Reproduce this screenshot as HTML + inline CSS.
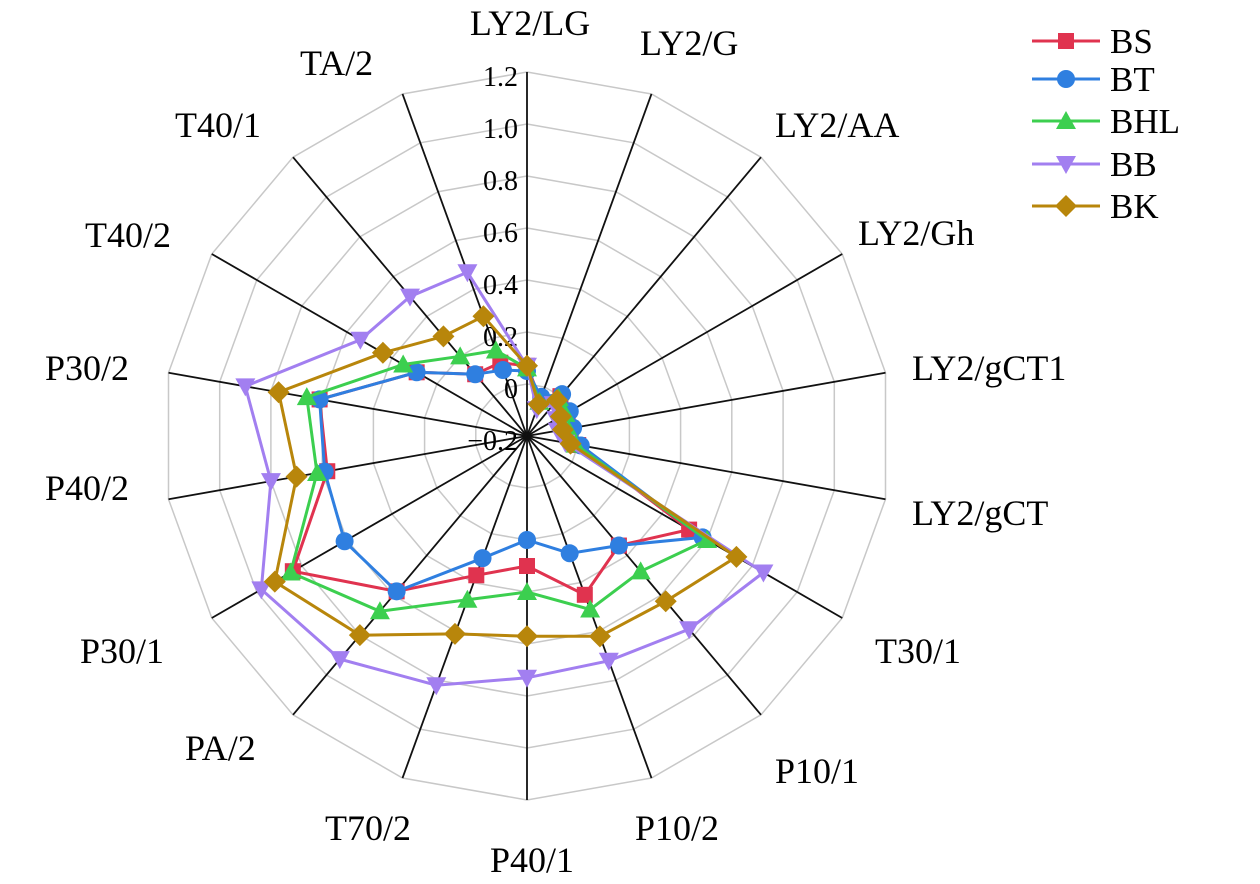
<!DOCTYPE html><html><head><meta charset="utf-8"><style>body{margin:0;background:#fff}svg{display:block}text{font-family:"Liberation Serif",serif;fill:#000}</style></head><body>
<svg id="s" width="1260" height="884" viewBox="0 0 1260 884"></svg>
<script>
const s=document.getElementById('s');const cx=527,cy=436,R=364;let h='';
const ang=i=>i*20*Math.PI/180;
const pt=(i,v)=>{const r=(v+0.2)/1.4*R;return [cx+r*Math.sin(ang(i)),cy-r*Math.cos(ang(i))];};
for(let k=1;k<=7;k++){let p=[];for(let i=0;i<18;i++){const r=k*R/7;p.push((cx+r*Math.sin(ang(i))).toFixed(1)+','+(cy-r*Math.cos(ang(i))).toFixed(1));}h+=`<polygon points="${p.join(' ')}" fill="none" stroke="#c8c8c8" stroke-width="1.5"/>`;}
for(let i=0;i<18;i++){const [x,y]=pt(i,1.2);h+=`<line x1="${cx}" y1="${cy}" x2="${x}" y2="${y}" stroke="#111" stroke-width="1.8"/>`;}
const tl=['1.2','1.0','0.8','0.6','0.4','0.2','0','−0.2'];tl.forEach((t,k)=>{h+=`<text x="518" y="${86+k*52}" font-size="28" text-anchor="end">${t}</text>`;});
const labs=[['LY2/LG',530,35,'middle'],['LY2/G',640,55,'start'],['LY2/AA',775,137,'start'],['LY2/Gh',858,245,'start'],['LY2/gCT1',912,380,'start'],['LY2/gCT',912,525,'start'],['T30/1',875,663,'start'],['P10/1',775,783,'start'],['P10/2',635,840,'start'],['P40/1',532,872,'middle'],['T70/2',325,840,'start'],['PA/2',185,760,'start'],['P30/1',80,663,'start'],['P40/2',45,500,'start'],['P30/2',45,380,'start'],['T40/2',85,247,'start'],['T40/1',175,137,'start'],['TA/2',300,75,'start']];
labs.forEach(l=>{h+=`<text x="${l[1]}" y="${l[2]}" font-size="36" text-anchor="${l[3]}">${l[0]}</text>`;});
const ser=[
['BS','#e0334f','sq',[0.07,-0.05,0,-0.02,-0.03,0,0.52,0.35,0.45,0.30,0.37,0.58,0.84,0.58,0.61,0.29,0.11,0.10]],
['BT','#2f7fe0','ci',[0.05,-0.04,0.01,-0.01,-0.02,0.01,0.58,0.35,0.28,0.20,0.30,0.58,0.61,0.59,0.61,0.29,0.11,0.07]],
['BHL','#3ccf4f','tr',[0.06,-0.06,-0.01,-0.03,-0.04,-0.01,0.60,0.48,0.51,0.40,0.47,0.68,0.85,0.62,0.66,0.35,0.20,0.15]],
['BB','#a27ff0','tv',[0.07,-0.09,-0.04,-0.07,-0.08,-0.05,0.85,0.77,0.72,0.73,0.82,0.92,0.98,0.80,0.90,0.54,0.50,0.47]],
['BK','#b8860b','di',[0.07,-0.07,-0.02,-0.05,-0.06,-0.03,0.73,0.63,0.62,0.57,0.61,0.80,0.92,0.70,0.77,0.44,0.30,0.29]]];
function mk(t,x,y,c){if(t=='sq')return `<rect x="${x-8}" y="${y-8}" width="16" height="16" fill="${c}"/>`;if(t=='ci')return `<circle cx="${x}" cy="${y}" r="9" fill="${c}"/>`;if(t=='tr')return `<polygon points="${x},${y-10} ${x+10},${y+8} ${x-10},${y+8}" fill="${c}"/>`;if(t=='tv')return `<polygon points="${x},${y+10} ${x+10},${y-8} ${x-10},${y-8}" fill="${c}"/>`;return `<polygon points="${x},${y-11} ${x+11},${y} ${x},${y+11} ${x-11},${y}" fill="${c}"/>`;}
ser.forEach((S,j)=>{const ps=S[3].map((v,i)=>pt(i,v));h+=`<polygon points="${ps.map(p=>p[0].toFixed(1)+','+p[1].toFixed(1)).join(' ')}" fill="none" stroke="${S[1]}" stroke-width="3"/>`;ps.forEach(p=>h+=mk(S[2],p[0],p[1],S[1]));
const ly=[41,79,121,164,206][j];h+=`<line x1="1032" y1="${ly}" x2="1100" y2="${ly}" stroke="${S[1]}" stroke-width="3"/>`+mk(S[2],1066,ly,S[1])+`<text x="1110" y="${ly+12}" font-size="35">${S[0]}</text>`;});
s.innerHTML=h;
</script></body></html>
